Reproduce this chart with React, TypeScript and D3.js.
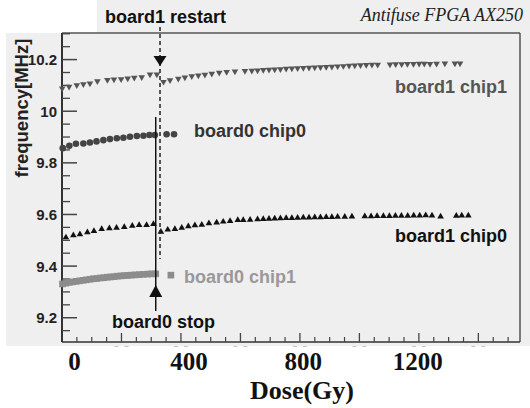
import React from "react";
import * as d3 from "d3";

// chart data (dose in Gy, frequency in MHz)
const board1Chip1: [number, number][] = [
  [-43, 10.088], [-19, 10.095], [8, 10.101], [31, 10.105], [54, 10.108], [80, 10.116],
  [115, 10.121], [138, 10.123], [163, 10.124], [186, 10.127], [209, 10.13], [235, 10.132],
  [264, 10.143], [288, 10.143],
  [311, 10.114], [334, 10.12], [363, 10.126], [386, 10.131], [410, 10.136], [433, 10.139],
  [456, 10.142], [480, 10.145], [506, 10.149], [532, 10.152], [561, 10.154], [596, 10.156],
  [620, 10.157], [640, 10.158], [660, 10.16], [680, 10.161], [700, 10.162], [720, 10.163],
  [740, 10.165], [760, 10.166], [780, 10.167], [800, 10.168], [820, 10.169], [840, 10.17],
  [860, 10.171], [880, 10.172], [900, 10.173], [920, 10.174], [940, 10.175], [960, 10.176],
  [980, 10.177], [1000, 10.178], [1020, 10.179], [1040, 10.18], [1060, 10.18],
  [1103, 10.181], [1123, 10.182], [1144, 10.182], [1164, 10.183], [1185, 10.183], [1205, 10.184],
  [1223, 10.184], [1243, 10.183], [1266, 10.184], [1295, 10.185], [1330, 10.185], [1348, 10.185],
];

const board0Chip0: [number, number][] = [
  [-41, 9.857], [-18, 9.866], [5, 9.874], [31, 9.875], [54, 9.879], [77, 9.883], [101, 9.888],
  [124, 9.892], [148, 9.895], [171, 9.897], [194, 9.901], [218, 9.904], [241, 9.905],
  [262, 9.908], [281, 9.908], [322, 9.911], [348, 9.911],
];

const board1Chip0: [number, number][] = [
  [-30, 9.511], [-4, 9.519], [19, 9.523], [45, 9.531], [68, 9.536], [95, 9.543], [122, 9.546],
  [147, 9.548], [174, 9.551], [202, 9.556], [226, 9.559], [252, 9.559], [276, 9.563],
  [302, 9.533], [326, 9.541], [351, 9.543], [375, 9.548], [398, 9.554], [421, 9.558],
  [445, 9.56], [470, 9.566], [497, 9.569], [520, 9.572], [544, 9.574], [571, 9.578],
  [590, 9.578], [614, 9.579], [640, 9.581], [660, 9.582], [680, 9.583], [700, 9.584],
  [720, 9.585], [740, 9.586], [760, 9.586], [780, 9.587], [800, 9.588], [820, 9.588],
  [840, 9.589], [860, 9.589], [880, 9.59], [900, 9.59], [920, 9.591], [945, 9.591], [970, 9.592],
  [1015, 9.593], [1037, 9.593], [1058, 9.594], [1080, 9.594], [1101, 9.594], [1122, 9.595],
  [1143, 9.595], [1165, 9.595], [1186, 9.596], [1207, 9.596], [1228, 9.597], [1250, 9.596],
  [1280, 9.592], [1335, 9.595], [1354, 9.596], [1377, 9.596],
];

const board0Chip1: [number, number][] = [
  [-42, 9.331], [-30, 9.334], [-18, 9.337], [-6, 9.339], [6, 9.341], [18, 9.343], [30, 9.345],
  [42, 9.347], [54, 9.349], [66, 9.351], [78, 9.352], [90, 9.354], [102, 9.355], [114, 9.357],
  [126, 9.358], [138, 9.359], [150, 9.361], [162, 9.362], [174, 9.363], [186, 9.364],
  [198, 9.365], [212, 9.366], [226, 9.367], [240, 9.368], [256, 9.369], [270, 9.37],
  [284, 9.37], [337, 9.365],
];

const doseTicks = [0, 400, 800, 1200];
const freqTicks = [9.2, 9.4, 9.6, 9.8, 10, 10.2];
const freqTickLabels = ["9.2", "9.4", "9.6", "9.8", "10", "10.2"];
const innerMajorTicks = [1, 2, 3, 4, 5, 6, 7];

const board0StopDose = 284;
const board1RestartDose = 299;

const W = 530;
const H = 408;
const left = 62;
const right = 520;
const top = 33;
const bottom = 342;

const FONT = "'Liberation Sans', Arial, sans-serif";
const SERIF = "'Liberation Serif', 'Times New Roman', serif";

export default function App() {
  const x = d3.scaleLinear().domain([-43.7, 1557.7]).range([left, right]);
  const y = d3.scaleLinear().domain([9.106, 10.303]).range([bottom, top]);
  // the original panel carries a second, finer tick axis under the dose labels
  const inner = d3.scaleLinear().domain([0, 7.7]).range([left, right]);

  const tri = d3.symbol().type(d3.symbolTriangle).size(19)()!;
  const sq = d3.symbol().type(d3.symbolSquare).size(44)()!;

  const minorY = d3.range(9.15, 10.3, 0.05).filter(
    (v) => !freqTicks.some((t) => Math.abs(t - v) < 1e-6)
  );
  const minorX = d3.range(0.25, 7.7, 0.25).filter((v) => Math.abs(v - Math.round(v)) > 1e-6);

  const xStop = x(board0StopDose);
  const xRestart = x(board1RestartDose);

  return (
    <svg width={W} height={H} style={{ position: "absolute", left: 0, top: 0, background: "#fff" }}>
      {/* grey panel of the scanned figure */}
      <rect x={6} y={33} width={524} height={313} fill="#efefef" />
      <rect x={97} y={0} width={433} height={33} fill="#efefef" />

      {/* frame */}
      <line x1={left} x2={right} y1={top} y2={top} stroke="#555" strokeWidth={1.5} />
      <line x1={right} x2={right} y1={top} y2={bottom} stroke="#555" strokeWidth={1.5} />
      <line x1={left} x2={left} y1={top} y2={bottom} stroke="#333" strokeWidth={2} />
      <line x1={left} x2={right} y1={bottom} y2={bottom} stroke="#333" strokeWidth={1.5} />

      {/* y ticks */}
      {freqTicks.map((t, i) => (
        <g key={"yt" + t}>
          <line x1={left} x2={left + 15} y1={y(t)} y2={y(t)} stroke="#444" strokeWidth={1.5} />
          <text x={57} y={y(t)} dy="0.36em" textAnchor="end" fontFamily={FONT} fontWeight="bold" fontSize={15} fill="#222">
            {freqTickLabels[i]}
          </text>
        </g>
      ))}
      {minorY.map((t) => (
        <line key={"ym" + t} x1={left} x2={left + 8} y1={y(t)} y2={y(t)} stroke="#444" strokeWidth={1.3} />
      ))}

      {/* inner x ticks */}
      {innerMajorTicks.map((t) => (
        <g key={"xi" + t}>
          <line x1={inner(t)} x2={inner(t)} y1={bottom} y2={bottom - 9} stroke="#444" strokeWidth={1.3} />
          <line x1={inner(t) - 7} x2={inner(t) - 3} y1={346.5} y2={346.5} stroke="#c4c4c4" strokeWidth={1} />
          <line x1={inner(t) + 3} x2={inner(t) + 7} y1={346.5} y2={346.5} stroke="#c4c4c4" strokeWidth={1} />
        </g>
      ))}
      {minorX.map((t) => (
        <line key={"xm" + t} x1={inner(t)} x2={inner(t)} y1={bottom} y2={bottom - 5} stroke="#444" strokeWidth={1.2} />
      ))}

      {/* dose labels */}
      {doseTicks.map((t) => (
        <text key={"xl" + t} x={x(t)} y={370} textAnchor="middle" fontFamily={SERIF} fontWeight="bold" fontSize={25} fill="#111">
          {t}
        </text>
      ))}
      <text x={302} y={399} textAnchor="middle" fontFamily={SERIF} fontWeight="bold" fontSize={26} fill="#111">
        Dose(Gy)
      </text>
      <text transform="translate(28,108) rotate(-90)" textAnchor="middle" fontFamily={FONT} fontWeight="bold" fontSize={18.5} fill="#222">
        frequency[MHz]
      </text>
      <text x={523} y={21} textAnchor="end" fontFamily={SERIF} fontStyle="italic" fontSize={18} fill="#222">
        Antifuse FPGA AX250
      </text>

      {/* markers */}
      {board0Chip1.map(([d, f], i) => (
        <path key={"s" + i} d={sq} transform={`translate(${x(d)},${y(f)})`} fill="#8c8c8c" />
      ))}
      {board0Chip0.map(([d, f], i) => (
        <circle key={"c" + i} cx={x(d)} cy={y(f)} r={3.3} fill="#444" />
      ))}
      {board1Chip1.map(([d, f], i) => (
        <path key={"v" + i} d={tri} transform={`translate(${x(d)},${y(f)}) rotate(180)`} fill="#555" />
      ))}
      {board1Chip0.map(([d, f], i) => (
        <path key={"a" + i} d={tri} transform={`translate(${x(d)},${y(f)})`} fill="#111" />
      ))}

      {/* board0 stop */}
      <line x1={xStop} x2={xStop} y1={117} y2={311} stroke="#111" strokeWidth={1.5} />
      <path d={`M${xStop},285 L${xStop - 6.5},297 L${xStop + 6.5},297 Z`} fill="#111" />
      {/* board1 restart */}
      <line x1={xRestart} x2={xRestart} y1={27} y2={259} stroke="#222" strokeWidth={1.5} strokeDasharray="4,3" />
      <path d={`M${xRestart},66 L${xRestart - 6.5},56 L${xRestart + 6.5},56 Z`} fill="#111" />

      {/* annotations */}
      <text x={105} y={23} fontFamily={FONT} fontWeight="bold" fontSize={18} fill="#111">board1 restart</text>
      <text x={112} y={328} fontFamily={FONT} fontWeight="bold" fontSize={18} fill="#111">board0 stop</text>
      <text x={194} y={137} fontFamily={FONT} fontWeight="bold" fontSize={18} fill="#333">board0 chip0</text>
      <text x={395} y={93} fontFamily={FONT} fontWeight="bold" fontSize={18} fill="#555">board1 chip1</text>
      <text x={395} y={242} fontFamily={FONT} fontWeight="bold" fontSize={18} fill="#111">board1 chip0</text>
      <text x={184} y={283} fontFamily={FONT} fontWeight="bold" fontSize={18} fill="#999">board0 chip1</text>
    </svg>
  );
}
